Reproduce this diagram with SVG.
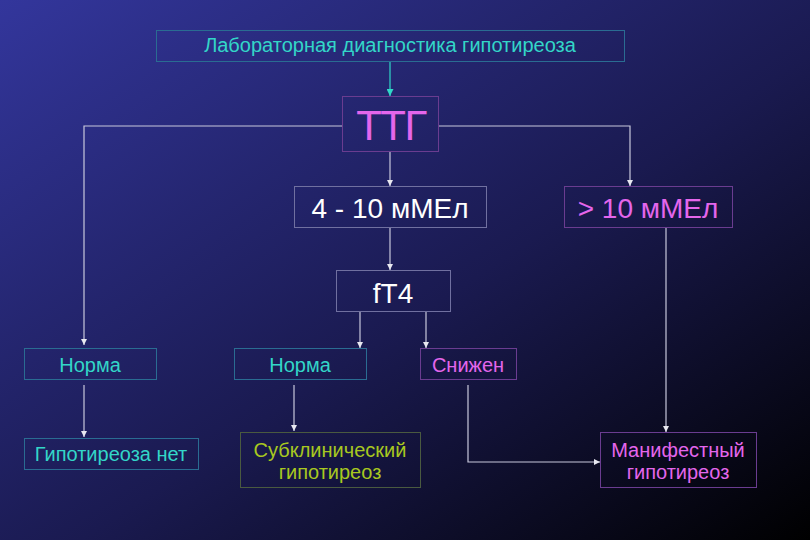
<svg xmlns="http://www.w3.org/2000/svg" width="810" height="540" viewBox="0 0 810 540">
<defs>
<linearGradient id="bg" x1="0" y1="0" x2="1" y2="1">
<stop offset="0" stop-color="#33369c"/>
<stop offset="0.55" stop-color="#1a1a50"/>
<stop offset="1" stop-color="#000000"/>
</linearGradient>
<marker id="aw" viewBox="0 0 10 10" refX="10" refY="5" markerWidth="6" markerHeight="6" markerUnits="userSpaceOnUse" orient="auto"><path d="M0,0 L10,5 L0,10 z" fill="#e8e8f0"/></marker>
<marker id="at" viewBox="0 0 10 10" refX="10" refY="5" markerWidth="7" markerHeight="7" markerUnits="userSpaceOnUse" orient="auto"><path d="M0,0 L10,5 L0,10 z" fill="#30d8c8"/></marker>
</defs>
<style>
.box{stroke-width:1;fill:none}
.teal{stroke:#2a6c92}
.purp{stroke:#6a3c90}
.gray{stroke:#7070a0}
.olive{stroke:#4a5a40}
text{font-family:"Liberation Sans",Arial,sans-serif;text-anchor:middle}
.tt{fill:#33d6c8}
.mg{fill:#e466ec}
.wh{fill:#ffffff}
.yg{fill:#a8c820}
.c{stroke:#c8c8dc;stroke-width:1.2;fill:none;marker-end:url(#aw)}
</style>
<rect width="810" height="540" fill="url(#bg)"/>
<g id="connectors">
<path d="M390,61 V96" style="stroke:#30d8c8;stroke-width:1.2;fill:none;marker-end:url(#at)"/>
<path class="c" d="M342,126 H84 V345"/>
<path class="c" d="M438,126 H630 V186"/>
<path class="c" d="M390,151 V186"/>
<path class="c" d="M390,227 V270"/>
<path class="c" d="M360,311 V348"/>
<path class="c" d="M426,311 V348"/>
<path class="c" d="M84,385 V437"/>
<path class="c" d="M294,385 V431"/>
<path class="c" d="M468,385 V462 H600"/>
<path class="c" d="M666,227 V432"/>
</g>
<g id="title"><rect class="box teal" x="156.5" y="30.5" width="468" height="31"/><text class="tt" x="390" y="52" font-size="20">Лабораторная диагностика гипотиреоза</text></g>
<g id="ttg"><rect class="box purp" x="342.5" y="96.5" width="96" height="55"/><text class="mg" x="391" y="140" font-size="42" letter-spacing="-1.5">ТТГ</text></g>
<g id="r4_10"><rect class="box gray" x="294.5" y="186.5" width="192" height="41"/><text class="wh" x="390" y="218" font-size="28">4 - 10 мМЕл</text></g>
<g id="r10"><rect class="box purp" x="564.5" y="186.5" width="168" height="41"/><text class="mg" x="648" y="218" font-size="28">&gt; 10 мМЕл</text></g>
<g id="ft4"><rect class="box gray" x="336.5" y="270.5" width="114" height="41"/><text class="wh" x="393" y="303" font-size="28">fT4</text></g>
<g id="norma1"><rect class="box teal" x="24.5" y="348.5" width="132" height="31"/><text class="tt" x="90" y="372" font-size="20">Норма</text></g>
<g id="norma2"><rect class="box teal" x="234.5" y="348.5" width="132" height="31"/><text class="tt" x="300" y="372" font-size="20">Норма</text></g>
<g id="snizhen"><rect class="box purp" x="420.5" y="348.5" width="96" height="31"/><text class="mg" x="468" y="372" font-size="20">Снижен</text></g>
<g id="net"><rect class="box teal" x="24.5" y="438.5" width="174" height="31"/><text class="tt" x="111" y="461" font-size="20">Гипотиреоза нет</text></g>
<g id="subkl"><rect class="box olive" x="240.5" y="432.5" width="180" height="55"/><text class="yg" x="330" y="457" font-size="20">Субклинический</text><text class="yg" x="330" y="479" font-size="20">гипотиреоз</text></g>
<g id="manif"><rect class="box purp" x="600.5" y="432.5" width="156" height="55"/><text class="mg" x="678" y="457" font-size="20">Манифестный</text><text class="mg" x="678" y="479" font-size="20">гипотиреоз</text></g>
</svg>
